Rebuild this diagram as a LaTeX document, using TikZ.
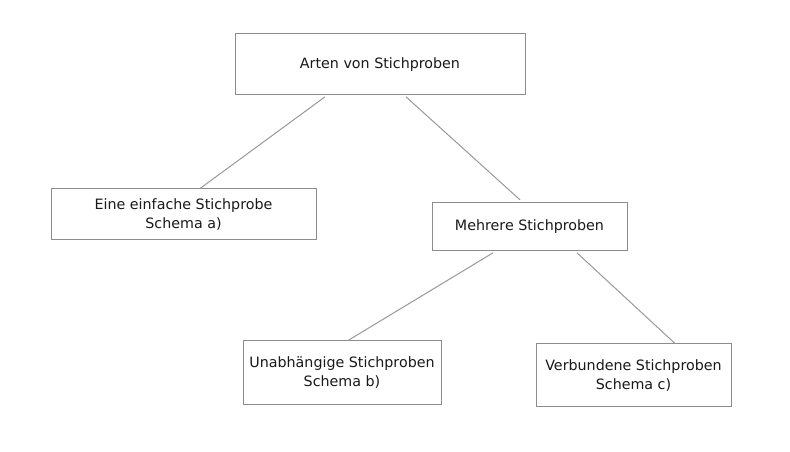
\documentclass[tikz,border=0pt]{standalone}
\usepackage{fontspec}
\setmainfont{DejaVu Sans}
\usepackage{tikz}

\begin{document}
\begin{tikzpicture}[x=0.75pt,y=-0.75pt]
  \tikzset{box/.style = {draw=black!45,line width=0.75pt,align=center,inner sep=0pt,
      text=black!90,font=\fontsize{10.7}{14.25}\selectfont}}
  \tikzset{edge/.style = {-,draw=black!40,line width=0.75pt}}

\useasboundingbox[fill=white] (0,0) rectangle (790,452);

\node[box,minimum width=290*0.75pt,minimum height=61*0.75pt] (arten)  at (380,64.5) {Arten von Stichproben};
\node[box,minimum width=265*0.75pt,minimum height=51*0.75pt] (einfach)  at (183.5,214.5) {Eine einfache Stichprobe\\Schema a)};
\node[box,minimum width=195*0.75pt,minimum height=48*0.75pt] (mehrere)  at (529.5,227) {Mehrere Stichproben};
\node[box,minimum width=198*0.75pt,minimum height=64*0.75pt] (unabh)  at (342,373) {Unabhängige Stichproben\\Schema b)};
\node[box,minimum width=195*0.75pt,minimum height=63*0.75pt] (verbund)  at (633.5,375.5) {Verbundene Stichproben\\Schema c)};

    \draw[edge] ([xshift=-55*0.75pt,yshift=-1pt]arten.south) -- ([xshift=16.5*0.75pt]einfach.north);
    \draw[edge] ([xshift=26*0.75pt,yshift=-1pt]arten.south) -- ([xshift=-9.5*0.75pt,yshift=2pt]mehrere.north);
    \draw[edge] ([xshift=-36.5*0.75pt,yshift=-1pt]mehrere.south) -- ([xshift=6*0.75pt]unabh.north);
    \draw[edge] ([xshift=47.5*0.75pt,yshift=-1pt]mehrere.south) -- ([xshift=41.5*0.75pt]verbund.north);

\end{tikzpicture}
\end{document}
